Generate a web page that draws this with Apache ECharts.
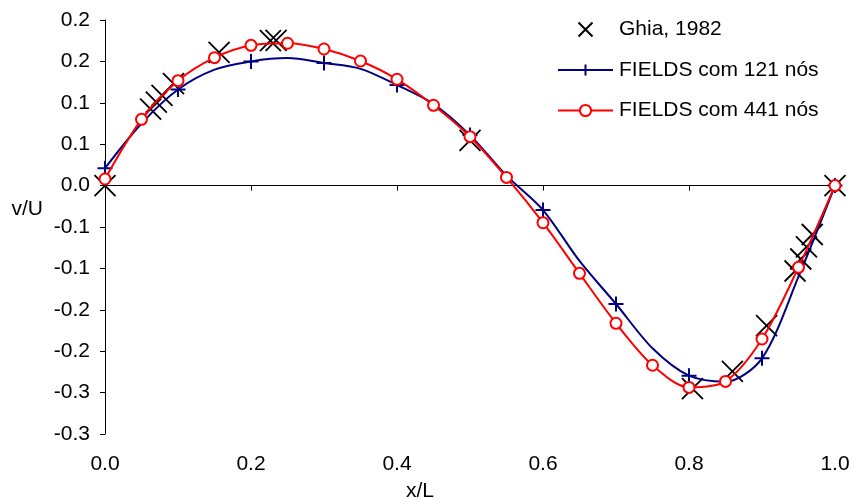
<!DOCTYPE html>
<html>
<head>
<meta charset="utf-8">
<script src="https://cdn.jsdelivr.net/npm/echarts@6/dist/echarts.min.js"></script>
<style>html,body{margin:0;padding:0;background:#fff}#c{width:853px;height:501px}</style>
</head>
<body>
<div id="c"></div>
<script>
// ---- Data ----
const ghiaX = [0.0000, 0.0625, 0.0703, 0.0781, 0.0938, 0.1563, 0.2266, 0.2344, 0.5000, 0.8047, 0.8594, 0.9063, 0.9453, 0.9531, 0.9609, 0.9688, 1.0000];
const ghiaV = [0.00000, 0.09233, 0.10091, 0.10890, 0.12317, 0.16077, 0.17507, 0.17527, 0.05454, -0.24533, -0.22445, -0.16914, -0.10313, -0.08864, -0.07391, -0.05906, 0.00000];

const blueX = [0, 0.05, 0.1, 0.15, 0.2, 0.25, 0.3, 0.35, 0.4, 0.45, 0.5, 0.55, 0.6, 0.65, 0.7, 0.75, 0.8, 0.85, 0.9, 0.95, 1.0];
const blueV = [0.021, 0.075, 0.116, 0.140, 0.150, 0.154, 0.148, 0.141, 0.1215, 0.0986, 0.061, 0.012, -0.0295, -0.091, -0.143, -0.1965, -0.2296, -0.2368, -0.2086, -0.110, 0.0];
const blueNodeX = [0, 0.1, 0.2, 0.3, 0.4, 0.5, 0.6, 0.7, 0.8, 0.9, 1.0];

const redX = [0, 0.05, 0.1, 0.15, 0.2, 0.25, 0.3, 0.35, 0.4, 0.45, 0.5, 0.55, 0.6, 0.65, 0.7, 0.75, 0.8, 0.85, 0.9, 0.95, 1.0];
const redV = [0.008, 0.080, 0.1267, 0.1545, 0.1694, 0.1719, 0.165, 0.1505, 0.1284, 0.097, 0.0591, 0.0099, -0.0448, -0.106, -0.1663, -0.217, -0.2437, -0.2365, -0.1853, -0.0987, 0.0];

const seriesNames = ['Ghia, 1982', 'FIELDS com 121 nós', 'FIELDS com 441 nós'];
const xTickLabels = ['0.0', '0.2', '0.4', '0.6', '0.8', '1.0'];
const yTickLabels = ['-0.3', '-0.3', '-0.2', '-0.2', '-0.1', '-0.1', '0.0', '0.1', '0.1', '0.2', '0.2'];
const xName = 'x/L';
const yName = 'v/U';

// ---- Chart ----
const FONT = '"Liberation Sans", Arial, sans-serif';
const crossPath = 'path://M0,0L10,10M10,0L0,10';
const plusPath = 'path://M5,0L5,10M0,5L10,5';
const yMin = -0.3, yMax = 0.2, yStep = 0.05;
const xMin = 0, xMax = 1, xStep = 0.2;

const chart = echarts.init(document.getElementById('c'), null, {renderer: 'canvas'});

const ghiaData = ghiaX.map((x, i) => [x, ghiaV[i]]);
const blueData = blueX.map((x, i) => {
  const isNode = blueNodeX.some(n => Math.abs(n - x) < 1e-9);
  return isNode ? {value: [x, blueV[i]]} : {value: [x, blueV[i]], symbol: 'none'};
});
const redData = redX.map((x, i) => [x, redV[i]]);

chart.setOption({
  backgroundColor: '#ffffff',
  animation: false,
  textStyle: {fontFamily: FONT},
  grid: {left: 105, right: 18, top: 20, bottom: 67, containLabel: false, outerBoundsMode: 'none'},
  legend: {
    orient: 'vertical',
    left: 552,
    top: 14,
    itemWidth: 55,
    itemHeight: 14,
    itemGap: 19.5,
    textStyle: {fontFamily: FONT, fontSize: 21, color: '#000', lineHeight: 21, padding: [0, 0, 0, 1]},
    data: seriesNames
  },
  xAxis: {
    type: 'value',
    min: xMin, max: xMax, interval: xStep,
    name: xName,
    nameLocation: 'middle',
    nameGap: 47,
    nameMoveOverlap: false,
    nameTextStyle: {fontFamily: FONT, fontSize: 21, color: '#000', padding: [0, 100, 0, 0]},
    axisLine: {show: true, lineStyle: {color: '#000', width: 1}},
    axisTick: {show: true, inside: false, length: 5, lineStyle: {color: '#000', width: 1}},
    splitLine: {show: false},
    axisLabel: {
      fontFamily: FONT, fontSize: 21, color: '#000', margin: 20,
      formatter: v => xTickLabels[Math.round((v - xMin) / xStep)]
    }
  },
  yAxis: {
    type: 'value',
    min: yMin, max: yMax, interval: yStep,
    name: yName,
    nameLocation: 'middle',
    nameRotate: 0,
    nameGap: 62,
    nameMoveOverlap: false,
    nameTextStyle: {fontFamily: FONT, fontSize: 21, color: '#000', verticalAlign: 'bottom', lineHeight: 35},
    axisLine: {show: true, lineStyle: {color: '#000', width: 1}},
    axisTick: {show: true, inside: false, length: 5, lineStyle: {color: '#000', width: 1}},
    splitLine: {show: false},
    axisLabel: {
      fontFamily: FONT, fontSize: 21, color: '#000', margin: 15,
      formatter: v => yTickLabels[Math.round((v - yMin) / yStep)]
    }
  },
  series: [
    {
      name: seriesNames[0],
      type: 'scatter',
      data: ghiaData,
      symbol: crossPath,
      symbolSize: 21,
      symbolKeepAspect: true,
      itemStyle: {color: 'none', borderColor: '#000', borderWidth: 1.8, opacity: 1},
      z: 2
    },
    {
      name: seriesNames[1],
      type: 'line',
      data: blueData,
      smooth: 0.3,
      symbol: plusPath,
      symbolSize: 15,
      showAllSymbol: true,
      lineStyle: {color: '#000080', width: 2},
      itemStyle: {color: 'none', borderColor: '#000080', borderWidth: 2},
      z: 3
    },
    {
      name: seriesNames[2],
      type: 'line',
      data: redData,
      smooth: 0.3,
      symbol: 'emptyCircle',
      symbolSize: 11,
      showAllSymbol: true,
      lineStyle: {color: '#ff0000', width: 2},
      itemStyle: {color: '#ff0000', borderColor: '#ff0000', borderWidth: 1.6},
      z: 4
    }
  ]
});
</script>
</body>
</html>
